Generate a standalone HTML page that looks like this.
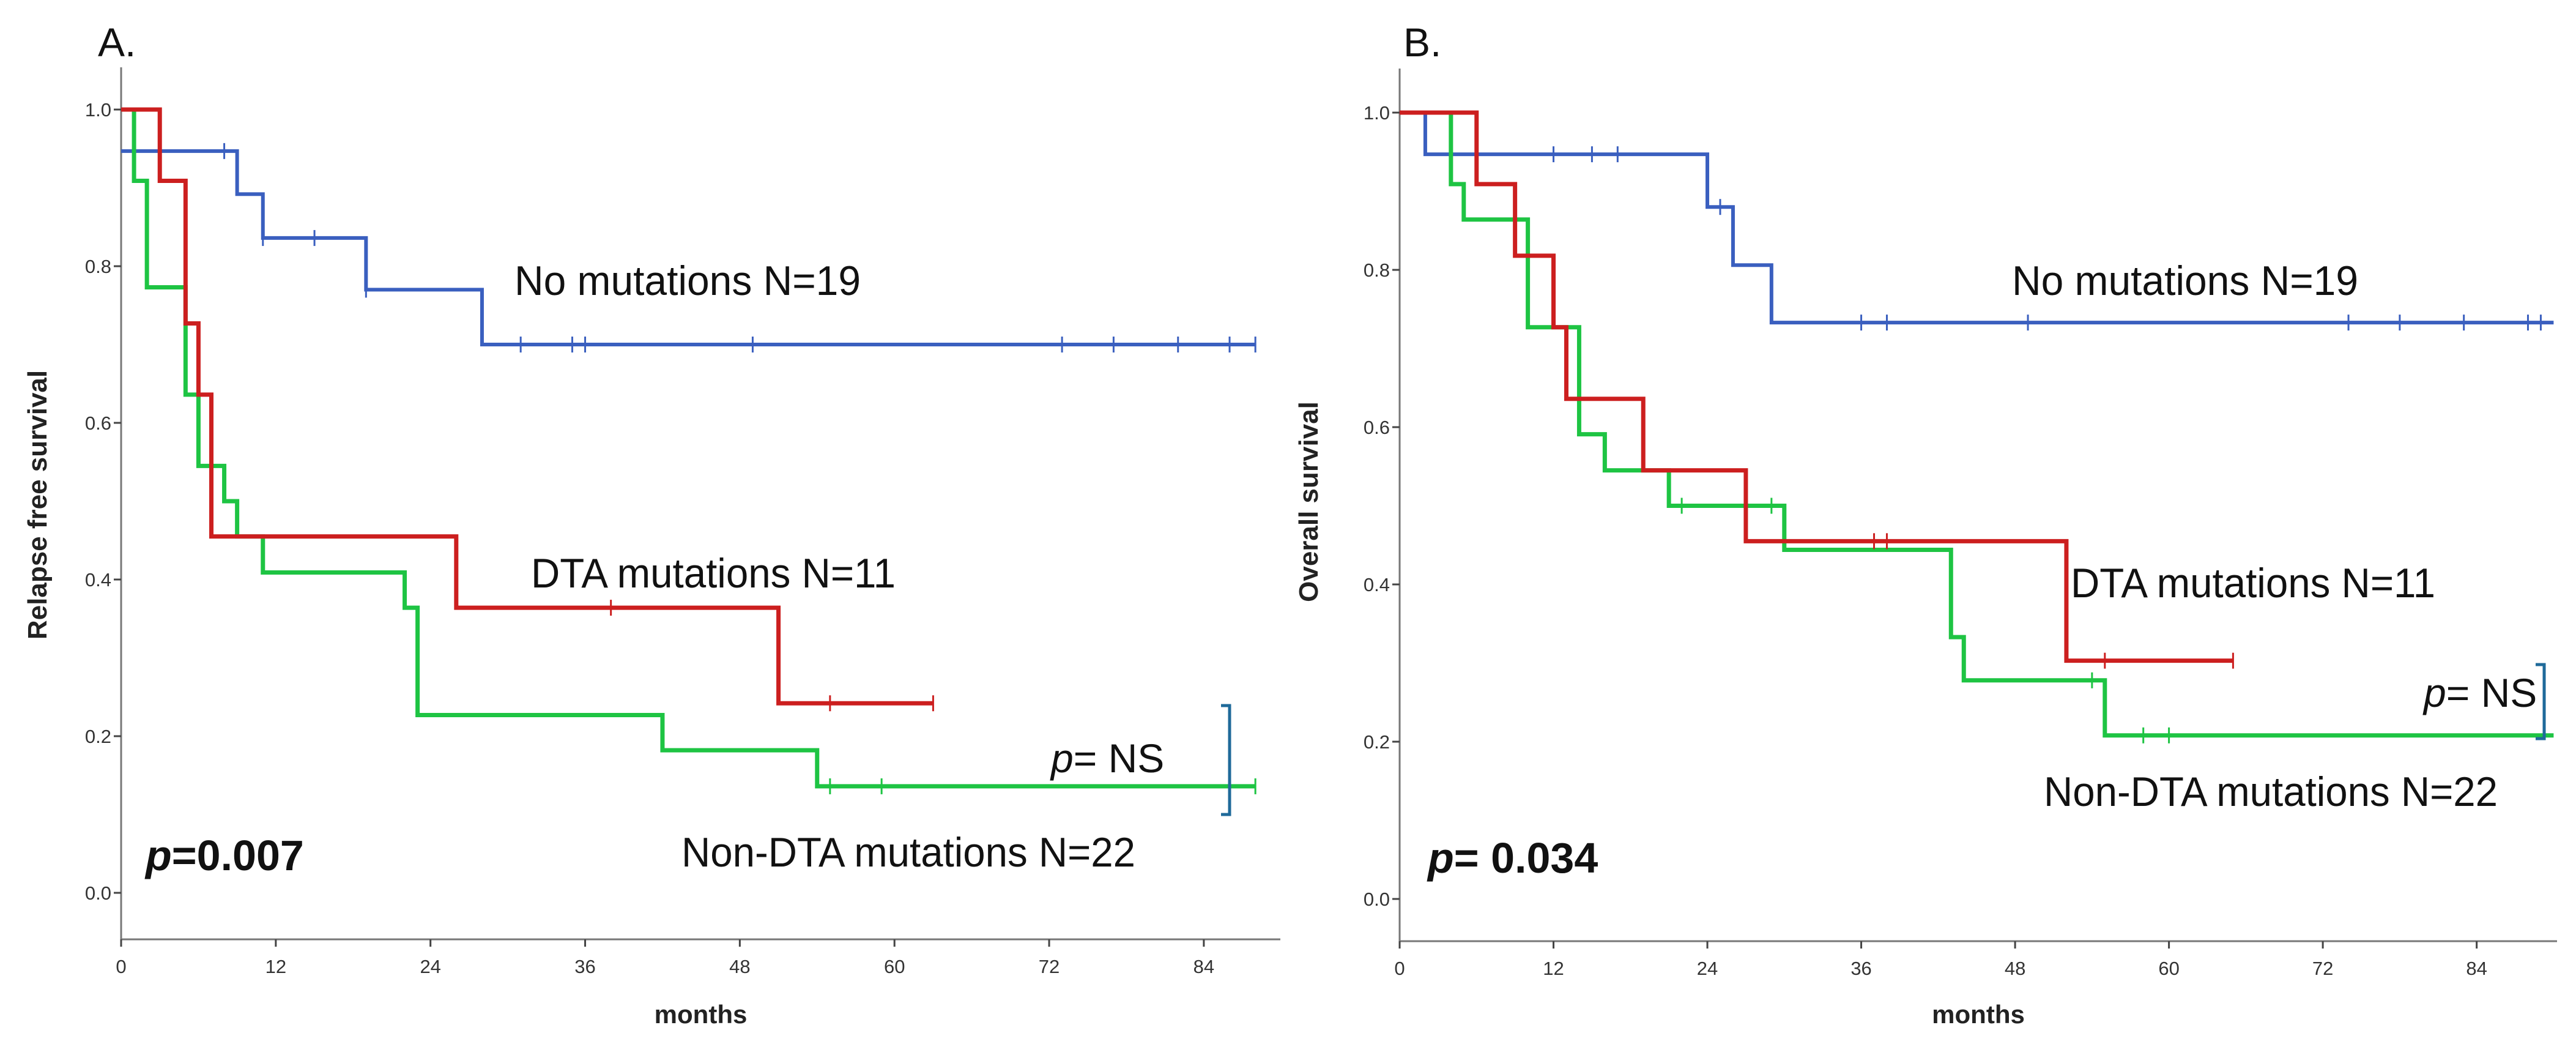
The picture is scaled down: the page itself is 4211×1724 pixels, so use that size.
<!DOCTYPE html>
<html><head><meta charset="utf-8"><style>
html,body{margin:0;padding:0;background:#fff;}
svg{display:block;}
text{font-family:"Liberation Sans",sans-serif;}
</style></head><body>
<svg id="fig" width="4211" height="1724" viewBox="0 0 4211 1724" xmlns="http://www.w3.org/2000/svg"></svg>
<script>
// ---- Panel A data (Relapse free survival) ----
const aBlueT = [0, 9, 11, 19, 28, 88];
const aBlueS = [0.947, 0.892, 0.836, 0.77, 0.70, 0.70];
const aBlueC = [8, 11, 15, 19, 31, 35, 36, 49, 73, 77, 82, 86, 88];
const aRedT = [0, 3, 5, 6, 7, 26, 51, 63];
const aRedS = [1.0, 0.909, 0.727, 0.636, 0.455, 0.364, 0.242, 0.242];
const aRedC = [38, 55, 63];
const aGreenT = [0, 1, 2, 5, 6, 8, 9, 11, 22, 23, 42, 54, 88];
const aGreenS = [1.0, 0.909, 0.773, 0.636, 0.545, 0.5, 0.455, 0.409, 0.364, 0.227, 0.182, 0.136, 0.136];
const aGreenC = [55, 59, 88];
// ---- Panel B data (Overall survival) ----
const bBlueT = [0, 2, 24, 26, 29, 90];
const bBlueS = [1.0, 0.947, 0.88, 0.806, 0.733, 0.733];
const bBlueC = [12, 15, 17, 25, 36, 38, 49, 74, 78, 83, 88, 89];
const bRedT = [0, 6, 9, 12, 13, 19, 27, 52, 65];
const bRedS = [1.0, 0.909, 0.818, 0.727, 0.636, 0.545, 0.455, 0.303, 0.303];
const bRedC = [37, 38, 55, 65];
const bGreenT = [0, 4, 5, 10, 14, 16, 21, 30, 43, 44, 55, 90];
const bGreenS = [1.0, 0.909, 0.864, 0.727, 0.591, 0.545, 0.5, 0.444, 0.333, 0.278, 0.208, 0.208];
const bGreenC = [22, 29, 54, 58, 60];
const xTicks = [0, 12, 24, 36, 48, 60, 72, 84];
const yTicks = [0.0, 0.2, 0.4, 0.6, 0.8, 1.0];

const NS = "http://www.w3.org/2000/svg";
const svg = document.getElementById('fig');
function mk(tag, attrs, parent) {
  const e = document.createElementNS(NS, tag);
  for (const k in attrs) e.setAttribute(k, attrs[k]);
  (parent || svg).appendChild(e);
  return e;
}
const BLUE = '#3a5fbf', RED = '#cc1f1f', GREEN = '#1ec443';

function panel(cfg) {
  const g = mk('g', {});
  
  
  const X = m => cfg.x0 + m * cfg.pxm;
  const Y = s => cfg.y0 - s * cfg.pxs;
  const ya = mk('line', {x1: cfg.x0, y1: cfg.yTop, x2: cfg.x0, y2: cfg.yAxis, stroke: '#777', 'stroke-width': 3}, g);
  
  
  const xa = mk('line', {x1: cfg.x0, y1: cfg.yAxis, x2: cfg.xEnd, y2: cfg.yAxis, stroke: '#777', 'stroke-width': 3}, g);
  
  
  xTicks.forEach(t => {
    mk('line', {x1: X(t), y1: cfg.yAxis, x2: X(t), y2: cfg.yAxis + 12, stroke: '#444', 'stroke-width': 3}, g);
    const tx = mk('text', {x: X(t), y: cfg.yAxis + 55, 'font-size': 31, fill: '#333', 'text-anchor': 'middle'}, g);
    tx.textContent = t;
    
    
  });
  yTicks.forEach(t => {
    mk('line', {x1: cfg.x0 - 12, y1: Y(t), x2: cfg.x0, y2: Y(t), stroke: '#444', 'stroke-width': 3}, g);
    const tx = mk('text', {x: cfg.x0 - 16, y: Y(t) + 11, 'font-size': 31, fill: '#333', 'text-anchor': 'end'}, g);
    tx.textContent = t.toFixed(1);
    
    
  });
  const xt = mk('text', {x: (cfg.x0 + cfg.xEnd) / 2, y: 1672, 'font-size': 42, 'font-weight': 'bold', fill: '#222', 'text-anchor': 'middle'}, g);
  xt.textContent = 'months';
  
  
  const ytt = mk('text', {x: 0, y: 0, 'font-size': 44, 'font-weight': 'bold', fill: '#222', 'text-anchor': 'middle', transform: `translate(${cfg.ytx},${cfg.yty}) rotate(-90)`}, g);
  ytt.textContent = cfg.ytitle;
  
  
  const lt = mk('text', {x: cfg.lx, y: 92, 'font-size': 66, fill: '#111'}, g);
  lt.textContent = cfg.letter;
  
  

  function curve(T, S, C, color, nm, w) {
    let d = `M${X(T[0])},${Y(S[0])}`;
    for (let i = 1; i < T.length; i++) {
      d += ` H${X(T[i])}`;
      d += ` V${Y(S[i])}`;
    }
    const p = mk('path', {d: d, fill: 'none', stroke: color, 'stroke-width': w, 'stroke-linejoin': 'miter'}, g);
    
    
    C.forEach(c => {
      let s = S[0];
      for (let i = 0; i < T.length; i++) if (T[i] <= c) s = S[i];
      const cm = mk('line', {x1: X(c), y1: Y(s) - 13, x2: X(c), y2: Y(s) + 13, stroke: color, 'stroke-width': 3}, g);
      
      
    });
  }
  curve(cfg.blue[0], cfg.blue[1], cfg.blue[2], BLUE, 'no-mutations', 6);
  curve(cfg.green[0], cfg.green[1], cfg.green[2], GREEN, 'non-dta', 7);
  curve(cfg.red[0], cfg.red[1], cfg.red[2], RED, 'dta', 7);

  cfg.labels.forEach(L => {
    const t = mk('text', {x: L.x, y: L.y, 'font-size': 68, fill: '#111', textLength: L.w, lengthAdjust: 'spacingAndGlyphs'}, g);
    t.textContent = L.t;
    
    
  });
  const pn = mk('text', {x: cfg.ns[0], y: cfg.ns[1], 'font-size': 66, fill: '#111'}, g);
  
  
  const pi = mk('tspan', {'font-style': 'italic'}, pn); pi.textContent = 'p';
  const pr = mk('tspan', {}, pn); pr.textContent = '= NS';
  const br = mk('path', {d: `M${cfg.br[0]-14},${cfg.br[1]} H${cfg.br[0]} V${cfg.br[2]} H${cfg.br[0]-14}`, fill: 'none', stroke: '#1f6a9a', 'stroke-width': 5}, g);
  
  
  const pv = mk('text', {x: cfg.pv[0], y: cfg.pv[1], 'font-size': 70, 'font-weight': 'bold', fill: '#111'}, g);
  
  
  const pvi = mk('tspan', {'font-style': 'italic'}, pv); pvi.textContent = 'p';
  const pvr = mk('tspan', {}, pv); pvr.textContent = cfg.pvText;
}

panel({name: 'panel-a-relapse-free', x0: 198, pxm: 21.07, y0: 1459, pxs: 1280, yTop: 110, yAxis: 1535, xEnd: 2093,
  ytitle: 'Relapse free survival', ytx: 76, yty: 825, letter: 'A.', lx: 160,
  blue: [aBlueT, aBlueS, aBlueC], red: [aRedT, aRedS, aRedC], green: [aGreenT, aGreenS, aGreenC],
  labels: [
    {t: 'No mutations N=19', x: 841, y: 482, w: 566, n: 'no-mutations-label'},
    {t: 'DTA mutations N=11', x: 868, y: 960, w: 596, n: 'dta-label'},
    {t: 'Non-DTA mutations N=22', x: 1114, y: 1416, w: 742, n: 'non-dta-label'}],
  ns: [1718, 1262], br: [2010, 1153, 1331], pv: [238, 1422], pvText: '=0.007'});

panel({name: 'panel-b-overall', x0: 2288, pxm: 20.96, y0: 1469, pxs: 1285, yTop: 112, yAxis: 1538, xEnd: 4180,
  ytitle: 'Overall survival', ytx: 2154, yty: 820, letter: 'B.', lx: 2294,
  blue: [bBlueT, bBlueS, bBlueC], red: [bRedT, bRedS, bRedC], green: [bGreenT, bGreenS, bGreenC],
  labels: [
    {t: 'No mutations N=19', x: 3289, y: 482, w: 566, n: 'no-mutations-label'},
    {t: 'DTA mutations N=11', x: 3385, y: 976, w: 596, n: 'dta-label'},
    {t: 'Non-DTA mutations N=22', x: 3341, y: 1317, w: 742, n: 'non-dta-label'}],
  ns: [3962, 1155], br: [4159, 1086, 1207], pv: [2334, 1426], pvText: '= 0.034'});
</script>
</body></html>
